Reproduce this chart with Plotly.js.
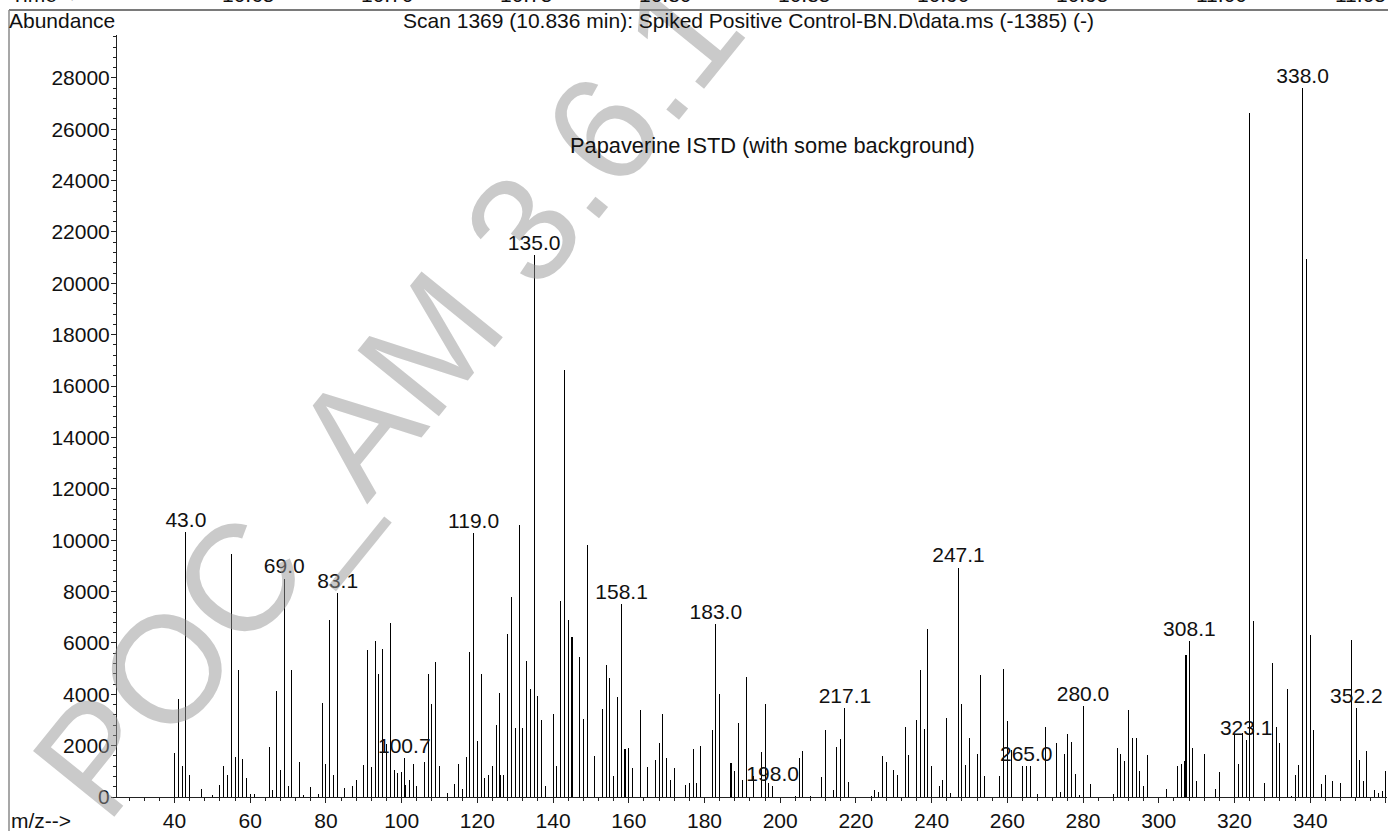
<!DOCTYPE html>
<html>
<head>
<meta charset="utf-8">
<script src="https://cdn.plot.ly/plotly-3.0.1.min.js"></script>
<style>
  html, body { margin: 0; padding: 0; background: #fff; }
  #chart { width: 1388px; height: 831px; }
</style>
</head>
<body>
<div id="chart"></div>
<script>
// Mass spectrum, scan 1369: m/z of each ion and its abundance
const mz = [
  40, 41, 42, 43.0, 44, 47, 50, 52, 53, 54, 55, 56, 57, 58, 59, 60, 61,
  65, 66, 67, 68, 69.0, 70, 71, 73, 74, 76, 78, 79, 80, 81, 82, 83.1, 85, 87, 88,
  90, 91, 92, 93, 94, 95, 96, 97, 98, 99, 100, 100.7, 101, 102, 103, 104,
  106, 107, 108, 109, 110, 112, 114, 115, 116, 117, 118, 119.0, 120, 121, 122, 123,
  124, 125, 125.8, 126.1, 127, 128, 129, 130, 131, 132, 133, 134, 135.0, 136, 137, 138,
  140, 141, 142, 143, 144, 145, 147, 148, 149, 151, 153, 154, 155, 156, 157, 158.1,
  159, 160, 161, 163, 165, 167, 168, 169, 170, 171, 172, 175, 176, 177, 178, 179,
  182, 183.0, 184, 187, 188, 189, 190, 191, 193, 195, 196, 197, 198.0,
  204, 205, 206, 208, 211, 212, 214, 215, 216, 217.1, 218,
  224, 225, 226, 227, 228, 230, 231, 233, 234, 236, 237, 238, 239, 240,
  242, 243, 244, 245, 247.1, 248, 249, 250, 252, 253, 254, 258, 259, 260, 261,
  264, 265.0, 266, 268, 270, 273, 274, 275, 276, 277, 278, 279, 280.0, 282,
  288, 289, 290, 291, 292, 293, 294, 295, 296, 297, 302, 305, 306, 306.9, 307.2, 308.1,
  309, 310, 312, 315, 316, 320, 321, 322, 323.1, 324, 325, 328, 330, 331, 332,
  334, 335, 336, 337, 338.0, 339, 340, 341, 343, 344, 346, 348,
  351, 352.2, 353, 354, 355, 357, 358, 359, 360
];
const abundance = [
  1700, 3800, 1200, 10300, 870, 300, 70, 455, 1200, 870, 9450, 1560, 4930, 1470, 750, 100, 100,
  1950, 260, 4110, 1050, 8500, 430, 4930, 1370, 65, 390, 130, 3650, 1270, 6900, 860, 7930, 340, 420, 650,
  1260, 5720, 1170, 6090, 4790, 5760, 2080, 6760, 1070, 940, 955, 1500, 460, 645, 1270, 420,
  1350, 4780, 3620, 5270, 1200, 160, 505, 1270, 325, 1560, 5650, 10270, 2170, 4780, 730, 845,
  1200, 2790, 4050, 845, 840, 6330, 7800, 2680, 10600, 2680, 5290, 4200, 21100, 3950, 3000, 420,
  3220, 1200, 7620, 16620, 6880, 6240, 5450, 3030, 9800, 1610, 3445, 5135, 4615, 830, 3910, 7500,
  1850, 1910, 1120, 3370, 1170, 1430, 2120, 3220, 1510, 650, 1140, 470, 530, 1860, 560, 2000,
  2600, 6720, 4000, 1330, 1000, 2870, 650, 4670, 800, 1750, 3640, 550, 416,
  50, 1530, 1780, 50, 770, 2590, 290, 1950, 2260, 3470, 585,
  50, 290, 180, 1610, 1350, 1040, 860, 2720, 1650, 2990, 4940, 2665, 6540, 1220,
  420, 680, 3090, 160, 8930, 3640, 1235, 2300, 1660, 4745, 820, 830, 4970, 2950, 1820,
  1190, 1200, 1215, 130, 2710, 2100, 195, 1685, 2440, 2130, 910, 80, 3540, 520,
  100, 1890, 1660, 1400, 3380, 2300, 2300, 1010, 420, 1625, 300, 1210, 1280, 1395, 5520, 6080,
  1920, 605, 1690, 305, 975, 2450, 1300, 2480, 2210, 26640, 6850, 550, 5230, 2730, 2100,
  4200, 30, 870, 1235, 27600, 20950, 6290, 2600, 520, 845, 620, 550,
  6110, 3470, 1450, 610, 1780, 260, 170, 220, 1010
];

// Ions whose m/z is printed above the stick
const labeledMz = [43.0, 69.0, 83.1, 100.7, 119.0, 135.0, 158.1, 183.0, 198.0,
  217.1, 247.1, 265.0, 280.0, 308.1, 323.1, 338.0, 352.2];

// Retention-time scale of the chromatogram panel above (only its labels' lower edge shows)
const timeTicks = ['10.65', '10.70', '10.75', '10.80', '10.85', '10.90', '10.95', '11.00', '11.05'];

const titleText = 'Scan 1369 (10.836 min): Spiked Positive Control-BN.D\\data.ms (-1385) (-)';
const noteText = 'Papaverine ISTD (with some background)';
const watermarkText = 'POC_AM 3.6.1';

const labelY = labeledMz.map(v => abundance[mz.indexOf(v)]);
const labelText = labeledMz.map(v => v.toFixed(1));

const FONT = 'Liberation Sans, Arial, Helvetica, sans-serif';
const W = 1388, H = 831;
const M = { l: 117, r: 1, t: 35, b: 34 };
const plotW = W - M.l - M.r, plotH = H - M.t - M.b;
const px = x => (x - M.l) / plotW;       // page x (px) -> paper x
const py = y => (H - M.b - y) / plotH;   // page y (px) -> paper y

const sticks = {
  type: 'bar',
  x: mz,
  y: abundance,
  width: 0.27,
  marker: { color: '#000', line: { width: 0 } },
  hoverinfo: 'skip'
};

const labels = {
  type: 'scatter',
  mode: 'text',
  x: labeledMz,
  y: labelY,
  text: labelText,
  textposition: 'top center',
  textfont: { family: FONT, size: 21, color: '#111' },
  cliponaxis: false,
  hoverinfo: 'skip'
};

const annotations = [
  {
    text: watermarkText, xref: 'paper', yref: 'paper',
    x: px(387), y: py(396), xanchor: 'center', yanchor: 'middle',
    textangle: -51, showarrow: false,
    font: { family: FONT, size: 152, color: 'rgba(150,150,150,0.5)' }
  },
  {
    text: 'Abundance', xref: 'paper', yref: 'paper',
    x: px(7), y: py(21), xanchor: 'left', yanchor: 'middle', showarrow: false,
    font: { family: FONT, size: 21, color: '#111' }
  },
  {
    text: titleText, xref: 'paper', yref: 'paper',
    x: px(748), y: py(21), xanchor: 'center', yanchor: 'middle', showarrow: false,
    font: { family: FONT, size: 21, color: '#111' }
  },
  {
    text: noteText, xref: 'paper', yref: 'paper',
    x: px(772), y: py(146), xanchor: 'center', yanchor: 'middle', showarrow: false,
    font: { family: FONT, size: 21.8, color: '#111' }
  },
  {
    text: 'm/z-->', xref: 'paper', yref: 'paper',
    x: px(9), y: py(820), xanchor: 'left', yanchor: 'middle', showarrow: false,
    font: { family: FONT, size: 21, color: '#111' }
  },
  {
    text: 'Time-->', xref: 'paper', yref: 'paper',
    x: px(9), y: py(-6), xanchor: 'left', yanchor: 'middle', showarrow: false,
    font: { family: FONT, size: 21, color: '#111' }
  }
];
timeTicks.forEach((t, i) => {
  annotations.push({
    text: t, xref: 'paper', yref: 'paper',
    x: px(248 + 139 * i), y: py(-6), xanchor: 'center', yanchor: 'middle', showarrow: false,
    font: { family: FONT, size: 21, color: '#111' }
  });
});

const shapes = [
  // lower edge of the chromatogram panel
  { type: 'line', xref: 'paper', yref: 'paper', x0: px(9), x1: px(1390), y0: py(10), y1: py(10),
    line: { color: '#7a7a7a', width: 2 } },
  // left frame
  { type: 'line', xref: 'paper', yref: 'paper', x0: px(9), x1: px(9), y0: py(10), y1: py(840),
    line: { color: '#8a8a8a', width: 1.5 } }
];

const axisCommon = {
  showgrid: false, zeroline: false, showline: true,
  linecolor: '#222', linewidth: 1,
  ticks: 'outside', tickcolor: '#222', tickwidth: 1,
  tickfont: { family: FONT, size: 21, color: '#111' }
};

const layout = {
  width: W, height: H,
  margin: { l: M.l, r: M.r, t: M.t, b: M.b, pad: 0 },
  paper_bgcolor: '#fff', plot_bgcolor: '#fff',
  showlegend: false,
  bargap: 0,
  xaxis: Object.assign({}, axisCommon, {
    range: [24.8, 360.3], tick0: 0, dtick: 20, ticklen: 5,
    minor: { dtick: 4, tick0: 0, ticks: 'outside', ticklen: 3, tickcolor: '#222', showgrid: false }
  }),
  yaxis: Object.assign({}, axisCommon, {
    range: [0, 29670], tick0: 0, dtick: 2000, ticklen: 5, tickformat: 'd',
    ticklabelstandoff: -3,
    minor: { dtick: 400, tick0: 0, ticks: 'outside', ticklen: 3, tickcolor: '#222', showgrid: false }
  }),
  annotations: annotations,
  shapes: shapes
};

Plotly.newPlot('chart', [sticks, labels], layout, { displayModeBar: false, staticPlot: true });
</script>
</body>
</html>
